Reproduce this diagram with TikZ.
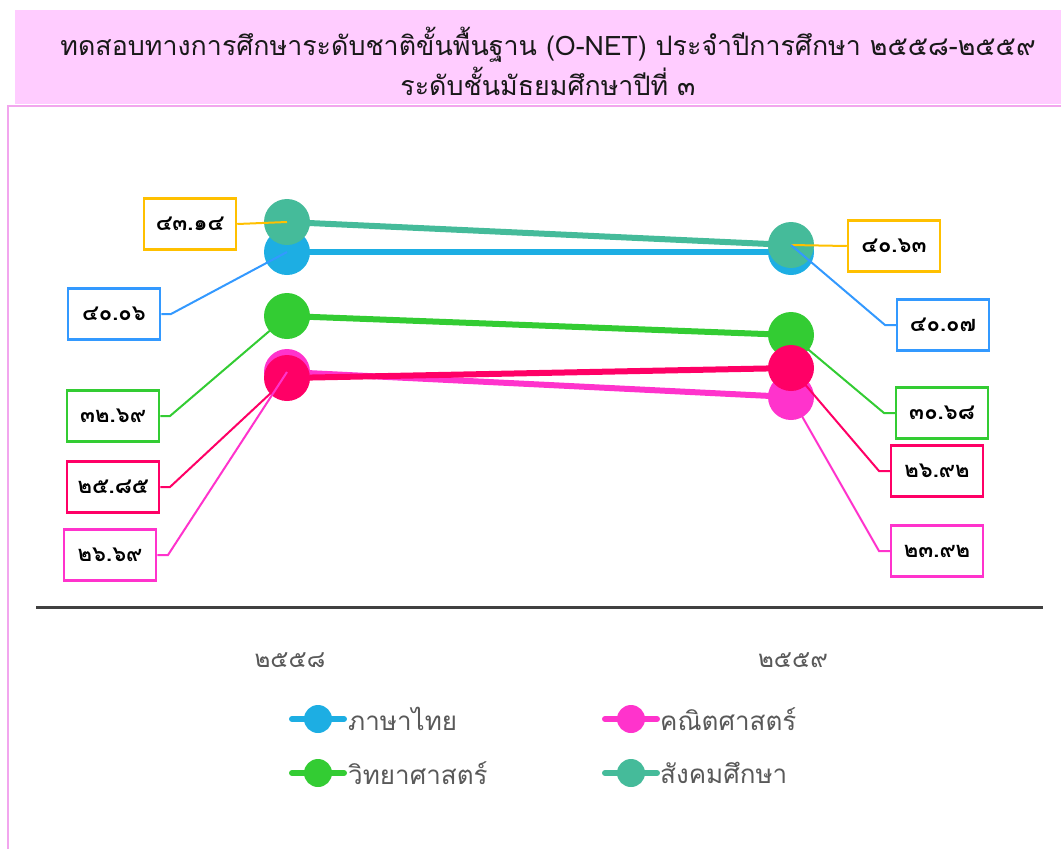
\documentclass[tikz,border=0pt]{standalone}
\usepackage{fontspec}
\setmainfont[Script=Thai]{Loma}
\definecolor{titlepink}{HTML}{FFCCFF}
\definecolor{borderpink}{HTML}{F2A6EE}
\definecolor{cblue}{HTML}{1DAEE3}
\definecolor{lblue}{HTML}{3399FF}
\definecolor{cteal}{HTML}{45BB9A}
\definecolor{cgreen}{HTML}{33CC33}
\definecolor{cpink}{HTML}{FF33CC}
\definecolor{ccrim}{HTML}{FF0066}
\definecolor{cyell}{HTML}{FFC000}
\definecolor{axisgray}{HTML}{404040}
\definecolor{txtgray}{HTML}{595959}
\tikzset{
  dot/.style={circle, inner sep=0pt, minimum size=46pt},
  serie/.style={line width=6pt},
  leader/.style={line width=2pt},
  valbox/.style={draw, line width=2.5pt, fill=white, minimum width=92pt, minimum height=51pt, inner sep=0pt, font=\fontsize{22}{26}\selectfont\bfseries},
  yearlbl/.style={text=txtgray, font=\fontsize{24}{28}\selectfont},
  legtxt/.style={text=txtgray, anchor=west, inner sep=0pt, font=\fontsize{26}{30}\selectfont},
  legline/.style={line width=6pt, line cap=round},
  legdot/.style={circle, inner sep=0pt, minimum size=28pt}
}
\begin{document}
\begin{tikzpicture}[x=1pt,y=-1pt]
\useasboundingbox (0,0) rectangle (1061,849);
% title and frame
\fill[titlepink] (15,10) rectangle (1061,104);
\draw[borderpink, line width=1.5pt] (8,849) -- (8,106) -- (1061,106);
\node[font=\fontsize{26.8}{40}\selectfont, align=center, text=black!90] (title) at (548,61)
  {ทดสอบทางการศึกษาระดับชาติขั้นพื้นฐาน (O-NET) ประจำปีการศึกษา ๒๕๕๘-๒๕๕๙\\ระดับชั้นมัธยมศึกษาปีที่ ๓};
% axis
\coordinate (axL) at (36,607);
\coordinate (axR) at (1043,607);
\draw[axisgray, line width=3pt] (axL) -- (axR);
\node[yearlbl] (y1) at (290,660) {๒๕๕๘};
\node[yearlbl] (y2) at (793,660) {๒๕๕๙};
% data points
\coordinate (b1) at (287,252); \coordinate (b2) at (791,252);
\coordinate (t1) at (287,222); \coordinate (t2) at (791,245);
\coordinate (g1) at (287,316); \coordinate (g2) at (791,335);
\coordinate (p1) at (287,372); \coordinate (p2) at (791,397);
\coordinate (r1) at (287,378); \coordinate (r2) at (791,368);
% series lines
\draw[serie, cblue] (b1) -- (b2);
\draw[serie, cgreen] (g1) -- (g2);
\draw[serie, cpink] (p1) -- (p2);
\draw[serie, ccrim] (r1) -- (r2);
\draw[serie, cteal] (t1) -- (t2);
% markers
\node[dot, fill=cblue] (B1) at (b1) {}; \node[dot, fill=cblue] (B2) at (b2) {};
\node[dot, fill=cgreen] (G1) at (g1) {}; \node[dot, fill=cgreen] (G2) at (g2) {};
\node[dot, fill=cpink] (P1) at (p1) {}; \node[dot, fill=cpink] (P2) at (p2) {};
\node[dot, fill=ccrim] (R1) at (r1) {}; \node[dot, fill=ccrim] (R2) at (r2) {};
\node[dot, fill=cteal] (T1) at (t1) {}; \node[dot, fill=cteal] (T2) at (t2) {};
% left labels
\node[valbox, draw=cyell] (lt1) at (190,224) {๔๓.๑๔};
\node[valbox, draw=lblue] (lb1) at (114,314) {๔๐.๐๖};
\node[valbox, draw=cgreen] (lg1) at (113,416) {๓๒.๖๙};
\node[valbox, draw=ccrim] (lr1) at (113,487) {๒๕.๘๕};
\node[valbox, draw=cpink] (lp1) at (110,555) {๒๖.๖๙};
\coordinate (kb1) at (171,314);
\coordinate (kg1) at (170,416);
\coordinate (kr1) at (170,487);
\coordinate (kp1) at (168,555);
\draw[leader, cyell] (lt1.east) -- (T1.center);
\draw[leader, lblue] (lb1.east) -- (kb1) -- (B1.center);
\draw[leader, cgreen] (lg1.east) -- (kg1) -- (G1.center);
\draw[leader, ccrim] (lr1.east) -- (kr1) -- (R1.center);
\draw[leader, cpink] (lp1.east) -- (kp1) -- (P1.center);
% right labels
\node[valbox, draw=cyell] (lt2) at (894,246) {๔๐.๖๓};
\node[valbox, draw=lblue] (lb2) at (943,325) {๔๐.๐๗};
\node[valbox, draw=cgreen] (lg2) at (942,413) {๓๐.๖๘};
\node[valbox, draw=ccrim] (lr2) at (937,471) {๒๖.๙๒};
\node[valbox, draw=cpink] (lp2) at (937,551) {๒๓.๙๒};
\coordinate (kb2) at (885,325);
\coordinate (kg2) at (884,413);
\coordinate (kr2) at (879,471);
\coordinate (kp2) at (879,551);
\draw[leader, cyell] (T2.center) -- (lt2.west);
\draw[leader, lblue] (T2.center) -- (kb2) -- (lb2.west);
\draw[leader, cgreen] (G2.center) -- (kg2) -- (lg2.west);
\draw[leader, ccrim] (R2.center) -- (kr2) -- (lr2.west);
\draw[leader, cpink] (P2.center) -- (kp2) -- (lp2.west);
% legend
\coordinate (la1) at (292,719); \coordinate (lz1) at (344,719);
\draw[legline, cblue] (la1) -- (lz1);
\node[legdot, fill=cblue] (ld1) at (318,719) {};
\node[legtxt] (lx1) at (348,719) {ภาษาไทย};
\coordinate (la2) at (605,719); \coordinate (lz2) at (657,719);
\draw[legline, cpink] (la2) -- (lz2);
\node[legdot, fill=cpink] (ld2) at (631,719) {};
\node[legtxt] (lx2) at (660,719) {คณิตศาสตร์};
\coordinate (la3) at (292,773); \coordinate (lz3) at (344,773);
\draw[legline, cgreen] (la3) -- (lz3);
\node[legdot, fill=cgreen] (ld3) at (318,773) {};
\node[legtxt] (lx3) at (348,773) {วิทยาศาสตร์};
\coordinate (la4) at (605,773); \coordinate (lz4) at (657,773);
\draw[legline, cteal] (la4) -- (lz4);
\node[legdot, fill=cteal] (ld4) at (631,773) {};
\node[legtxt] (lx4) at (660,773) {สังคมศึกษา};
\end{tikzpicture}
\end{document}
